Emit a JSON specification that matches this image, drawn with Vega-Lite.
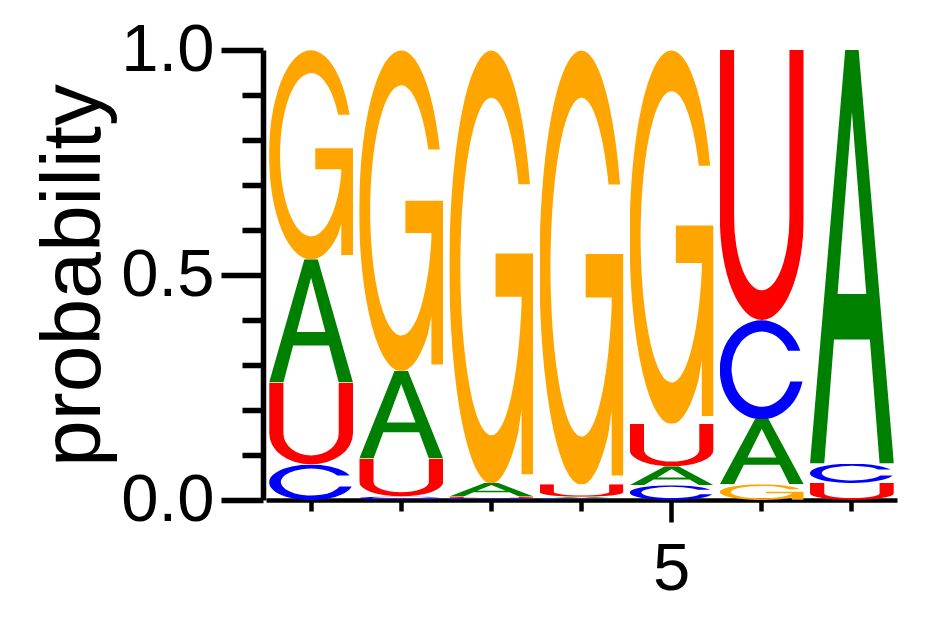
{
  "$schema": "https://vega.github.io/schema/vega-lite/v6.json",
  "width": 631,
  "height": 450,
  "autosize": {"type": "none"},
  "padding": {"left": 266, "top": 50, "right": 45, "bottom": 117},
  "background": "white",
  "data": {
    "values": [
      {"pos": 1, "base": "C", "p": 0.079},
      {"pos": 1, "base": "U", "p": 0.182},
      {"pos": 1, "base": "A", "p": 0.274},
      {"pos": 1, "base": "G", "p": 0.465},
      {"pos": 2, "base": "C", "p": 0.008},
      {"pos": 2, "base": "U", "p": 0.084},
      {"pos": 2, "base": "A", "p": 0.195},
      {"pos": 2, "base": "G", "p": 0.713},
      {"pos": 3, "base": "C", "p": 0.004},
      {"pos": 3, "base": "U", "p": 0.004},
      {"pos": 3, "base": "A", "p": 0.030},
      {"pos": 3, "base": "G", "p": 0.962},
      {"pos": 4, "base": "C", "p": 0.003},
      {"pos": 4, "base": "A", "p": 0.004},
      {"pos": 4, "base": "U", "p": 0.028},
      {"pos": 4, "base": "G", "p": 0.965},
      {"pos": 5, "base": "C", "p": 0.033},
      {"pos": 5, "base": "A", "p": 0.042},
      {"pos": 5, "base": "U", "p": 0.095},
      {"pos": 5, "base": "G", "p": 0.830},
      {"pos": 6, "base": "G", "p": 0.035},
      {"pos": 6, "base": "A", "p": 0.145},
      {"pos": 6, "base": "C", "p": 0.220},
      {"pos": 6, "base": "U", "p": 0.600},
      {"pos": 7, "base": "U", "p": 0.038},
      {"pos": 7, "base": "C", "p": 0.043},
      {"pos": 7, "base": "A", "p": 0.919}
    ]
  },
  "transform": [
    {"stack": "p", "groupby": ["pos"], "sort": [{"field": "p", "order": "ascending"}], "as": ["y0", "y1"]}
  ],
  "encoding": {
    "x": {
      "field": "pos",
      "type": "ordinal",
      "scale": {"type": "band", "paddingInner": 0.07, "paddingOuter": 0.035},
      "axis": {
        "title": null,
        "labelAngle": 0,
        "labelExpr": "datum.value == 5 ? '5' : ''",
        "tickSize": {"condition": {"test": "datum.value == 5", "value": 22}, "value": 11},
        "tickWidth": 4.5,
        "tickColor": "black",
        "domainColor": "black",
        "domainWidth": 4.5,
        "labelFont": "Liberation Sans",
        "labelFontSize": 67,
        "labelColor": "black",
        "labelPadding": 14,
        "grid": false
      }
    },
    "y": {
      "field": "y0",
      "type": "quantitative",
      "scale": {"domain": [0, 1], "nice": false},
      "axis": {
        "values": [0, 0.1, 0.2, 0.3, 0.4, 0.5, 0.6, 0.7, 0.8, 0.9, 1],
        "labelExpr": "datum.value == 0 || datum.value == 0.5 || datum.value == 1 ? format(datum.value, '.1f') : ''",
        "tickSize": {"condition": {"test": "datum.value == 0 || datum.value == 0.5 || datum.value == 1", "value": 42}, "value": 21},
        "tickWidth": 5.5,
        "tickColor": "black",
        "domainColor": "black",
        "domainWidth": 5.5,
        "offset": 3,
        "grid": false,
        "labelFont": "Liberation Sans",
        "labelFontSize": 67,
        "labelColor": "black",
        "labelPadding": 7,
        "labelFlush": false,
        "labelOverlap": false,
        "title": "probability",
        "titleFont": "Liberation Sans",
        "titleFontSize": 84,
        "titleFontWeight": "normal",
        "titleColor": "black",
        "titleAngle": 270,
        "titleAlign": "center",
        "titleBaseline": "alphabetic",
        "titleX": -164,
        "titleY": 225
      }
    },
    "y2": {"field": "y1"}
  },
  "layer": [
    {
      "transform": [{"filter": "datum.base === 'A'"}],
      "mark": {"type": "image", "aspect": false, "url": "data:image/svg+xml;utf8,%3Csvg%20xmlns='http://www.w3.org/2000/svg'%20width='100'%20height='100'%20viewBox='0%200%20100%20100'%20preserveAspectRatio='none'%3E%3Cpath%20fill='green'%20fill-rule='evenodd'%20d='M0,100L42,0L58,0L100,100L83,100L71.4,70L28.6,70L17,100ZM32.9,59L67.1,59L50,15Z'/%3E%3C/svg%3E"}
    },
    {
      "transform": [{"filter": "datum.base === 'C'"}],
      "mark": {"type": "image", "aspect": false, "url": "data:image/svg+xml;utf8,%3Csvg%20xmlns='http://www.w3.org/2000/svg'%20width='100'%20height='100'%20viewBox='0%200%20100%20100'%20preserveAspectRatio='none'%3E%3Cpath%20fill='blue'%20d='M96,31A50,50%200%201%200%2098.5,62L84,62A36,38%200%201%201%2081.3,31Z'/%3E%3C/svg%3E"}
    },
    {
      "transform": [{"filter": "datum.base === 'G'"}],
      "mark": {"type": "image", "aspect": false, "url": "data:image/svg+xml;utf8,%3Csvg%20xmlns='http://www.w3.org/2000/svg'%20width='100'%20height='100'%20viewBox='0%200%20100%20100'%20preserveAspectRatio='none'%3E%3Cpath%20fill='orange'%20d='M96,31A50,50%200%201%200%2082,88.4L86,83L86,98L100,98L100,47L55,47L55,57L86,57L86,59A37,39%200%201%201%2082.3,31Z'/%3E%3C/svg%3E"}
    },
    {
      "transform": [{"filter": "datum.base === 'U'"}],
      "mark": {"type": "image", "aspect": false, "url": "data:image/svg+xml;utf8,%3Csvg%20xmlns='http://www.w3.org/2000/svg'%20width='100'%20height='100'%20viewBox='0%200%20100%20100'%20preserveAspectRatio='none'%3E%3Cpath%20fill='red'%20d='M0,0L17,0L17,62A33,27%200%200%200%2083,62L83,0L100,0L100,62A50,38%200%200%201%200,62Z'/%3E%3C/svg%3E"}
    }
  ],
  "config": {"view": {"stroke": null}}
}
